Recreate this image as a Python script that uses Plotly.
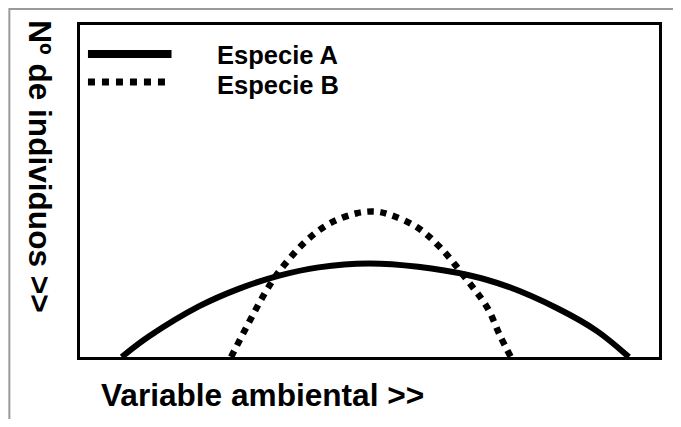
import plotly.graph_objects as go

# Data (x: environmental variable 0-100, y: number of individuals 0-100)
species_names = ["Especie A", "Especie B"]

especie_a_x = [7.2, 12.0, 20.6, 27.5, 34.4, 41.2, 49.8, 58.4, 67.0, 73.9, 82.5, 89.3, 94.8]
especie_a_y = [0.0, 6.3, 15.3, 20.6, 24.5, 27.0, 28.2, 27.2, 24.7, 21.2, 14.6, 7.8, 0.0]

especie_b_x = [26.1, 32.6, 35.5, 39.2, 43.2, 47.8, 51.0, 53.6, 58.1, 62.1, 67.3, 70.4, 72.5, 74.4]
especie_b_y = [0.0, 21.2, 28.2, 35.2, 40.3, 43.3, 43.8, 42.8, 39.2, 33.2, 22.2, 14.7, 6.6, 0.0]

x_title = "Variable ambiental >>"
y_title = "Nº de individuos >>"

FONT = "Liberation Sans, Arial, sans-serif"

fig = go.Figure()
fig.add_trace(go.Scatter(x=especie_a_x, y=especie_a_y, mode="lines", name=species_names[0],
                         line=dict(color="black", width=6, shape="spline", smoothing=1.0),
                         showlegend=False, hoverinfo="skip"))
fig.add_trace(go.Scatter(x=especie_b_x, y=especie_b_y, mode="lines", name=species_names[1],
                         line=dict(color="black", width=6.5, dash="dot", shape="spline", smoothing=1.0),
                         showlegend=False, hoverinfo="skip"))

# page has an 8px body margin; figure sized so the page fits 681x427 exactly
OFF = 8
W, H = 681 - 2 * OFF, 427 - 2 * OFF
L, R, T, B = 72, 11, 17, 62
pw, ph = W - L - R, H - T - B

def px(page_x):
    return (page_x - OFF - L) / pw

def py(page_y):
    return (H - B - (page_y - OFF)) / ph

shapes = [
    # outer grey frame of the picture
    dict(type="rect", xref="paper", yref="paper", x0=px(9), x1=px(720), y0=py(480), y1=py(9),
         line=dict(color="#9a9a9a", width=2), fillcolor="rgba(0,0,0,0)", layer="below"),
    # legend keys
    dict(type="line", xref="paper", yref="paper", x0=px(88), x1=px(172), y0=py(54), y1=py(54),
         line=dict(color="black", width=8)),
    dict(type="line", xref="paper", yref="paper", x0=px(88), x1=px(172), y0=py(82), y1=py(82),
         line=dict(color="black", width=7, dash="dot")),
]

annotations = [
    dict(text=species_names[0], xref="paper", yref="paper", x=px(216), y=py(55), xanchor="left",
         yanchor="middle", showarrow=False, font=dict(family=FONT, size=25.5, color="black", weight="bold")),
    dict(text=species_names[1], xref="paper", yref="paper", x=px(216), y=py(85), xanchor="left",
         yanchor="middle", showarrow=False, font=dict(family=FONT, size=25.5, color="black", weight="bold")),
    dict(text=x_title, xref="paper", yref="paper", x=px(263.5), y=py(395), xanchor="center",
         yanchor="middle", showarrow=False, font=dict(family=FONT, size=31.6, color="black", weight="bold")),
    dict(text=y_title, xref="paper", yref="paper", x=px(40), y=py(166.5), xanchor="center",
         yanchor="middle", textangle=90, showarrow=False,
         font=dict(family=FONT, size=31.6, color="black", weight="bold")),
]

fig.update_layout(
    width=W, height=H,
    margin=dict(l=L, r=R, t=T, b=B),
    paper_bgcolor="white", plot_bgcolor="white",
    showlegend=False,
    shapes=shapes, annotations=annotations,
    xaxis=dict(range=[0, 100], showgrid=False, zeroline=False, showticklabels=False, ticks="",
               showline=True, mirror=True, linecolor="black", linewidth=3),
    yaxis=dict(range=[0, 100], showgrid=False, zeroline=False, showticklabels=False, ticks="",
               showline=True, mirror=True, linecolor="black", linewidth=3),
)

fig.write_html("out.html")
